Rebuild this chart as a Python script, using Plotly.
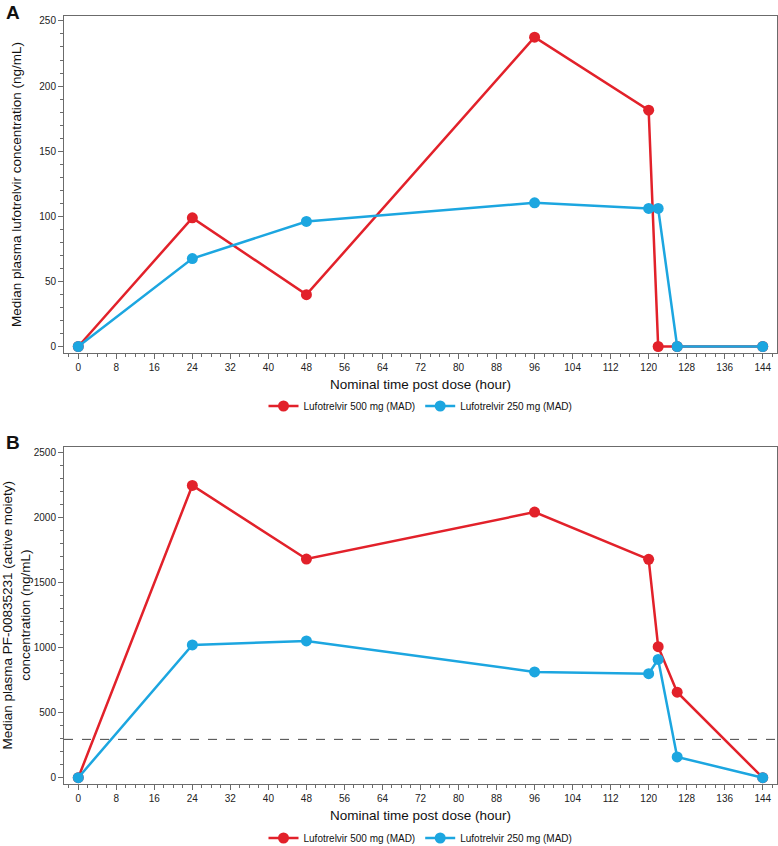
import plotly.graph_objects as go

# ---- data ----
time_500_A = [0, 24, 48, 96, 120, 122, 126, 144]
conc_500_A = [0, 98.8, 39.8, 237.5, 181.5, 0, 0, 0]
time_250_A = [0, 24, 48, 96, 120, 122, 126, 144]
conc_250_A = [0, 67.5, 96, 110.3, 106, 106, 0, 0]

time_500_B = [0, 24, 48, 96, 120, 122, 126, 144]
conc_500_B = [0, 2248, 1682, 2043, 1680, 1008, 658, 0]
time_250_B = [0, 24, 48, 96, 120, 122, 126, 144]
conc_250_B = [0, 1021, 1052, 814, 800, 910, 160, 0]

ref_line_B = 295

label_500 = "Lufotrelvir 500 mg (MAD)"
label_250 = "Lufotrelvir 250 mg (MAD)"
x_ticks = [0, 8, 16, 24, 32, 40, 48, 56, 64, 72, 80, 88, 96, 104, 112, 120, 128, 136, 144]

RED = "#E2212A"
BLUE = "#1CA6E0"
FONT = "Liberation Sans, Arial, sans-serif"

W, H = 778, 846
def px_x(v):
    return v / W
def px_y(v):
    return 1 - v / H

fig = go.Figure()

def add(x, y, name, color, xa, ya, legend):
    fig.add_trace(go.Scatter(
        x=x, y=y, name=name, mode="lines+markers",
        line=dict(color=color, width=2.5),
        marker=dict(color=color, size=11),
        xaxis=xa, yaxis=ya, legend=legend, cliponaxis=False))

add(time_500_A, conc_500_A, label_500, RED, "x", "y", "legend")
add(time_250_A, conc_250_A, label_250, BLUE, "x", "y", "legend")
add(time_500_B, conc_500_B, label_500, RED, "x2", "y2", "legend2")
add(time_250_B, conc_250_B, label_250, BLUE, "x2", "y2", "legend2")

axis_common = dict(
    showline=True, mirror=True, linecolor="#6b6b6b", linewidth=1,
    showgrid=False, zeroline=False, ticks="outside", ticklen=5,
    tickcolor="#6b6b6b", tickfont=dict(size=10, color="#222", family=FONT),
    automargin=False,
)

xdom = [px_x(64), px_x(777)]
xa = dict(axis_common, range=[-3, 147], tickvals=x_ticks, domain=xdom,
          minor=dict(dtick=2, tick0=0, ticks="outside", ticklen=3, tickcolor="#6b6b6b"),
          title=dict(text="Nominal time post dose (hour)", font=dict(size=13.5, color="#111", family=FONT), standoff=7))

fig.update_layout(
    width=W, height=H,
    margin=dict(l=0, r=0, t=0, b=0, autoexpand=False),
    paper_bgcolor="white", plot_bgcolor="white",
    font=dict(family=FONT, color="#111"),
    xaxis=dict(xa, anchor="y"),
    yaxis=dict(axis_common, range=[-5, 253.8], dtick=50, tick0=0, anchor="x",
               domain=[px_y(353), px_y(16)],
               minor=dict(dtick=10, tick0=0, ticks="outside", ticklen=3, tickcolor="#6b6b6b"),
               title=dict(text="Median plasma lufotrelvir concentration (ng/mL)",
                          font=dict(size=13.5, color="#111", family=FONT), standoff=14)),
    xaxis2=dict(xa, anchor="y2"),
    yaxis2=dict(axis_common, range=[-46, 2546], dtick=500, tick0=0, anchor="x2",
                domain=[px_y(783.7), px_y(446.7)],
                minor=dict(dtick=100, tick0=0, ticks="outside", ticklen=3, tickcolor="#6b6b6b"),
                title=dict(text="Median plasma PF-00835231 (active moiety)<br>concentration (ng/mL)",
                           font=dict(size=13.5, color="#111", family=FONT), standoff=6)),
    legend=dict(orientation="h", x=(64 + 777) / 2 / W, xanchor="center", y=px_y(406), yanchor="middle",
                font=dict(size=10, family=FONT, color="#111"), bgcolor="rgba(0,0,0,0)"),
    legend2=dict(orientation="h", x=(64 + 777) / 2 / W, xanchor="center", y=px_y(838), yanchor="middle",
                 font=dict(size=10, family=FONT, color="#111"), bgcolor="rgba(0,0,0,0)"),
    showlegend=True,
)

fig.add_shape(type="line", xref="x2 domain", yref="y2", x0=0, x1=1, y0=ref_line_B, y1=ref_line_B,
              line=dict(color="#444", width=1, dash="dash"), layer="below")

fig.add_annotation(text="<b>A</b>", x=px_x(4), y=px_y(12), xref="paper", yref="paper",
                   xanchor="left", yanchor="middle", showarrow=False,
                   font=dict(size=19, family=FONT, color="#111"))
fig.add_annotation(text="<b>B</b>", x=px_x(4), y=px_y(442), xref="paper", yref="paper",
                   xanchor="left", yanchor="middle", showarrow=False,
                   font=dict(size=19, family=FONT, color="#111"))

fig.write_html("out.html", config={"displayModeBar": False},
               post_script="document.body.style.margin='0';document.body.style.overflow='hidden';")
